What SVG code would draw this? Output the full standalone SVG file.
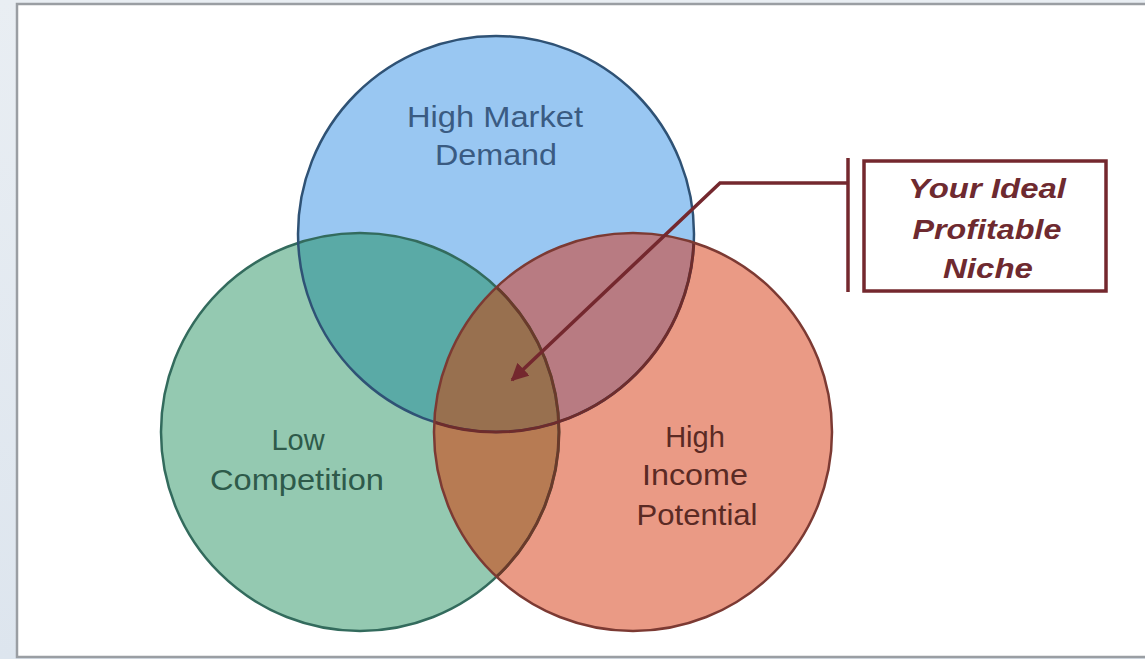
<svg xmlns="http://www.w3.org/2000/svg" width="1145" height="659" viewBox="0 0 1145 659">
<defs>
<style>
.lbl{font-family:"Liberation Sans",Arial,sans-serif;font-size:29px;text-anchor:middle}
.call{font-family:"Liberation Sans",Arial,sans-serif;font-size:28px;font-weight:bold;font-style:italic;fill:#6e2a30;text-anchor:middle}
.conn{stroke:#74282e;stroke-width:3.5;fill:none}
</style>
<linearGradient id="bgL" x1="0" y1="0" x2="0" y2="1">
<stop offset="0" stop-color="#e9eef3"/>
<stop offset="1" stop-color="#dde5ee"/>
</linearGradient>
<clipPath id="cB"><circle cx="496" cy="234" r="198"/></clipPath>
<clipPath id="cG"><circle cx="360" cy="432" r="199"/></clipPath>
<clipPath id="cR"><circle cx="633" cy="432" r="199"/></clipPath>
<marker id="ah" viewBox="0 0 10 10" refX="9" refY="5" markerWidth="5" markerHeight="5" markerUnits="strokeWidth" orient="auto">
<path d="M0,0 L10,5 L0,10 z" fill="#74282e"/>
</marker>
</defs>
<rect x="0" y="0" width="1145" height="659" fill="url(#bgL)"/>
<rect x="17" y="4" width="1130" height="653" fill="#ffffff" stroke="#9a9ea3" stroke-width="2.5"/>

<g id="fills">
<circle cx="360" cy="432" r="199" fill="#94c9b1"/>
<circle cx="496" cy="234" r="198" fill="#99c7f2"/>
<circle cx="633" cy="432" r="199" fill="#ea9a85"/>
<g clip-path="url(#cG)"><circle cx="496" cy="234" r="198" fill="#5aaaa6"/></g>
<g clip-path="url(#cR)"><circle cx="496" cy="234" r="198" fill="#b87b82"/></g>
<g clip-path="url(#cR)"><circle cx="360" cy="432" r="199" fill="#b77b53"/></g>
<g clip-path="url(#cR)"><g clip-path="url(#cB)"><circle cx="360" cy="432" r="199" fill="#98704f"/></g></g>
</g>

<g id="node-low-competition">
<circle cx="360" cy="432" r="199" fill="none" stroke="#336b5d" stroke-width="2.5"/>
<g clip-path="url(#cR)"><circle cx="360" cy="432" r="199" fill="none" stroke="#6a3a2a" stroke-width="3"/></g>
<text class="lbl" fill="#2e5a4a" x="298" y="450">Low</text>
<text class="lbl" fill="#2e5a4a" x="297" y="490" textLength="174" lengthAdjust="spacingAndGlyphs">Competition</text>
</g>
<g id="node-high-market-demand">
<circle cx="496" cy="234" r="198" fill="none" stroke="#2f5275" stroke-width="2.5"/>
<g clip-path="url(#cR)"><circle cx="496" cy="234" r="198" fill="none" stroke="#6e2c2c" stroke-width="3"/></g>
<text class="lbl" fill="#3a5b82" x="495" y="127" textLength="176" lengthAdjust="spacingAndGlyphs">High Market</text>
<text class="lbl" fill="#3a5b82" x="496" y="165" textLength="122" lengthAdjust="spacingAndGlyphs">Demand</text>
</g>
<g id="node-high-income-potential">
<circle cx="633" cy="432" r="199" fill="none" stroke="#7c3a33" stroke-width="2.5"/>
<text class="lbl" fill="#5a2a24" x="695" y="447">High</text>
<text class="lbl" fill="#5a2a24" x="695" y="485" textLength="106" lengthAdjust="spacingAndGlyphs">Income</text>
<text class="lbl" fill="#5a2a24" x="697" y="525" textLength="121" lengthAdjust="spacingAndGlyphs">Potential</text>
</g>

<g id="node-ideal-niche">
<rect x="864" y="161" width="242" height="130" fill="#ffffff" stroke="#74282e" stroke-width="3.5"/>
<text class="call" x="987" y="198" textLength="158" lengthAdjust="spacingAndGlyphs">Your Ideal</text>
<text class="call" x="987" y="239" textLength="149" lengthAdjust="spacingAndGlyphs">Profitable</text>
<text class="call" x="988" y="278" textLength="90" lengthAdjust="spacingAndGlyphs">Niche</text>
</g>

<g id="connectors">
<line class="conn" x1="848" y1="158" x2="848" y2="292"/>
<polyline class="conn" points="848,183 720,183 512,380" marker-end="url(#ah)"/>
</g>
</svg>
